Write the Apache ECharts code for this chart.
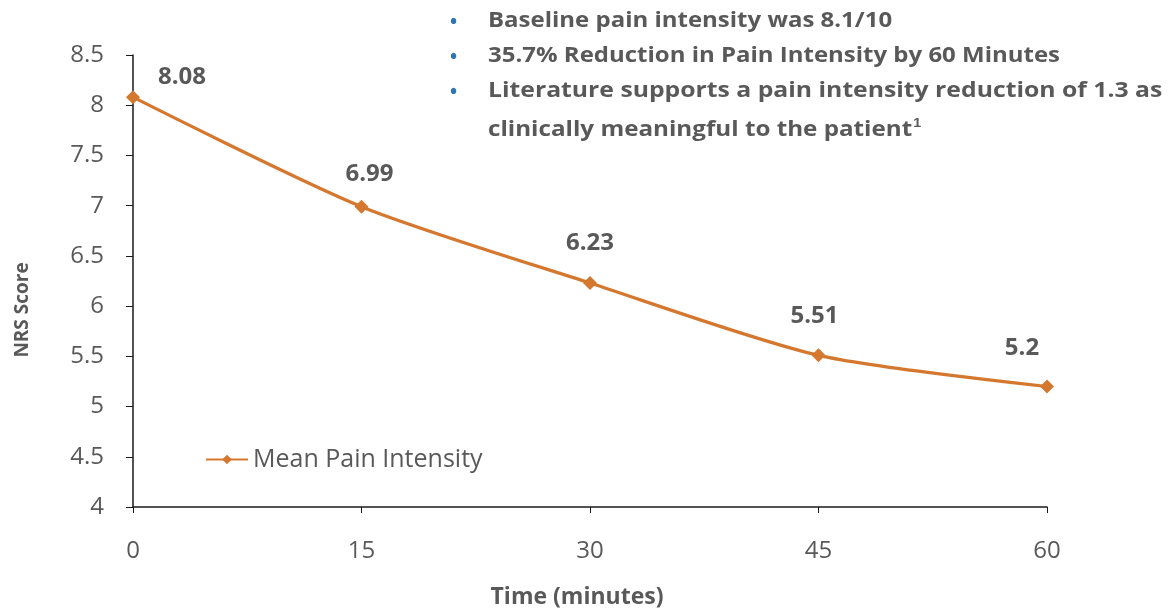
<!DOCTYPE html>
<html>
<head>
<meta charset="utf-8">
<script src="https://cdn.jsdelivr.net/npm/echarts@6/dist/echarts.min.js"></script>
<style>
  html, body { margin: 0; padding: 0; background: #ffffff; }
  #chart { width: 1173px; height: 614px; }
</style>
</head>
<body>
<div id="chart"></div>
<script>
// Time points (minutes) and mean NRS pain scores
const timePoints = [0, 15, 30, 45, 60];
const meanPain = [8.08, 6.99, 6.23, 5.51, 5.2];
// Per-point label nudges so the values sit clear of the line
const labelOffsets = [[49, 4], [8, -9], [0, -16], [-4, -15], [-25, -14]];
const notes = [
  'Baseline pain intensity was 8.1/10',
  '35.7% Reduction in Pain Intensity by 60 Minutes',
  'Literature supports a pain intensity reduction of 1.3 as',
  'clinically meaningful to the patient'
];
// Horizontal stretch for each note line (the third line runs full width)
const noteStretch = [1.09, 1.09, 1.125, 1.1];

const FONT = '"Open Sans", sans-serif';
const GREY = '#595959';
const ORANGE = '#D5782F';

const seriesData = timePoints.map((t, i) => ({
  value: [t, meanPain[i]],
  label: { offset: labelOffsets[i] }
}));

const noteGraphics = [];
notes.forEach((txt, i) => {
  const y = 20 + i * 35 + (i === 3 ? 2 : 0);
  if (i < 3) {
    noteGraphics.push({
      type: 'text', x: 450, y: y - 7,
      style: { text: '•', fill: '#2E75B6', font: 'bold 19px ' + FONT }
    });
  }
  noteGraphics.push({
    type: 'text', x: 488, y: y - 10, scaleX: noteStretch[i],
    style: {
      text: txt + (i === 3 ? '{sup|1}' : ''),
      fill: GREY, font: 'bold 22px ' + FONT,
      rich: { sup: { fontSize: 13, fontWeight: 'bold', fill: GREY, verticalAlign: 'top', padding: [0, 0, 12, 1] } }
    }
  });
});

const chart = echarts.init(document.getElementById('chart'), null, { renderer: 'canvas' });
chart.setOption({
  animation: false,
  backgroundColor: '#ffffff',
  textStyle: { fontFamily: FONT },
  grid: { left: 133, right: 126, top: 55, bottom: 101, containLabel: false },
  legend: {
    left: 200, top: 442,
    itemWidth: 42, itemHeight: 12, itemGap: 4,
    textStyle: { color: GREY, fontSize: 25, fontFamily: FONT },
    data: [{ name: 'Mean Pain Intensity' }]
  },
  xAxis: {
    type: 'value', min: 0, max: 60, interval: 15,
    name: 'Time (minutes)', nameLocation: 'middle', nameGap: 79,
    nameTextStyle: { color: GREY, fontSize: 23, fontWeight: 'bold', fontFamily: FONT, padding: [0, 26, 0, 0] },
    axisLine: { show: true, lineStyle: { color: '#1a1a1a', width: 1.5 } },
    axisTick: { show: true, length: 6, lineStyle: { color: '#1a1a1a' } },
    axisLabel: { color: GREY, fontSize: 24, margin: 32, fontFamily: FONT },
    splitLine: { show: false }
  },
  yAxis: {
    type: 'value', min: 4, max: 8.5, interval: 0.5,
    axisLine: { show: true, lineStyle: { color: '#1a1a1a', width: 1.5 } },
    axisTick: { show: true, length: 7, lineStyle: { color: '#1a1a1a' } },
    axisLabel: { color: GREY, fontSize: 24, margin: 29, fontFamily: FONT },
    splitLine: { show: false }
  },
  graphic: [
    {
      type: 'text', x: 23, y: 310, rotation: Math.PI / 2,
      style: { text: 'NRS Score', fill: GREY, font: 'bold 19px ' + FONT, align: 'center', verticalAlign: 'middle' }
    },
    ...noteGraphics
  ],
  series: [{
    name: 'Mean Pain Intensity',
    type: 'line',
    data: seriesData,
    smooth: 0.25,
    symbol: 'diamond', symbolSize: 14,
    lineStyle: { color: ORANGE, width: 3.2 },
    itemStyle: { color: ORANGE },
    label: {
      show: true, position: 'top',
      color: GREY, fontSize: 24, fontWeight: 'bold', fontFamily: FONT,
      formatter: p => String(p.value[1])
    }
  }]
});
</script>
</body>
</html>
